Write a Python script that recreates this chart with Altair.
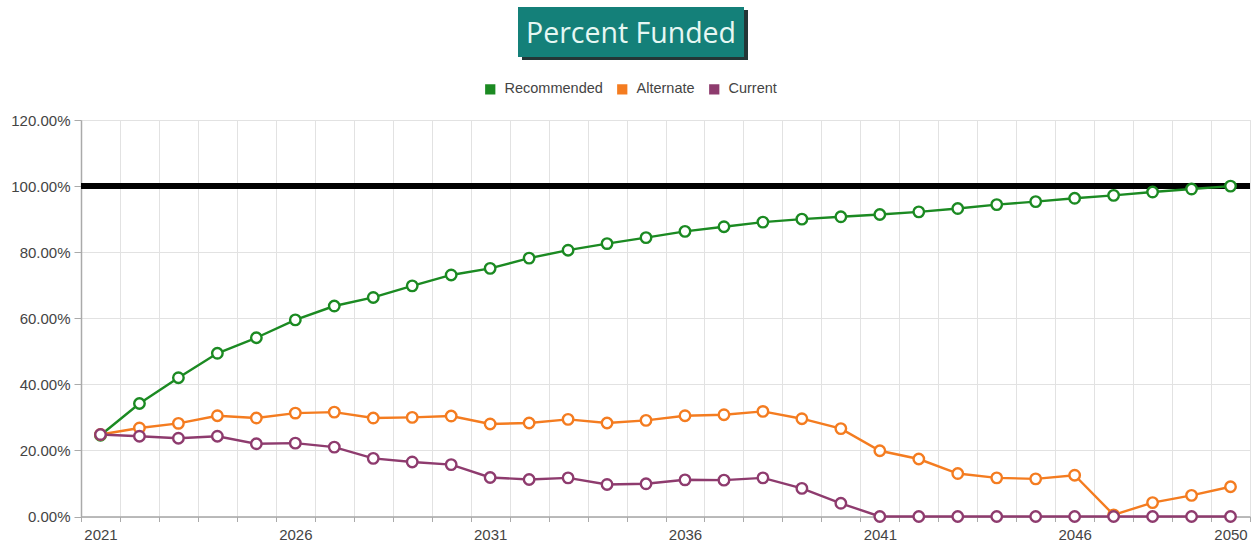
import altair as alt
import pandas as pd

years = list(range(2021, 2051))
recommended = [24.6, 34.2, 42.0, 49.4, 54.1, 59.5, 63.7, 66.3, 69.8, 73.1,
               75.1, 78.2, 80.6, 82.6, 84.4, 86.3, 87.7, 89.1, 90.0, 90.7,
               91.4, 92.2, 93.2, 94.4, 95.3, 96.3, 97.2, 98.2, 99.1, 100.0]
alternate = [24.8, 26.8, 28.2, 30.5, 29.8, 31.3, 31.6, 29.8, 30.0, 30.4,
             28.0, 28.3, 29.4, 28.3, 29.1, 30.5, 30.8, 31.8, 29.6, 26.6,
             19.9, 17.4, 13.0, 11.7, 11.4, 12.5, 0.5, 4.2, 6.4, 9.0]
current = [24.8, 24.3, 23.7, 24.3, 22.0, 22.2, 21.0, 17.6, 16.5, 15.7,
           11.8, 11.2, 11.7, 9.7, 9.9, 11.1, 11.0, 11.7, 8.5, 4.0,
           0.0, 0.0, 0.0, 0.0, 0.0, 0.0, 0.0, 0.0, 0.0, 0.0]
series_names = ["Recommended", "Alternate", "Current"]
series_colors = ["#1b8a22", "#f47c20", "#8e3b6e"]
target_value = [100]
x_label_years = [2021, 2026, 2031, 2036, 2041, 2046, 2050]
x_grid_years = [y - 0.5 for y in years] + [2050.5]
y_ticks = [0, 20, 40, 60, 80, 100, 120]
title_text = ["Percent Funded"]

rows = []
for name, vals in zip(series_names, [recommended, alternate, current]):
    for yr, v in zip(years, vals):
        rows.append({"year": yr, "value": v, "series": name})
df = pd.DataFrame(rows)

W, H = 1169, 396.5
FONT = "Liberation Sans"
xscale = alt.Scale(domain=[2020.5, 2050.5], nice=False, zero=False)
yscale = alt.Scale(domain=[0, 120], nice=False)
cscale = alt.Scale(domain=series_names, range=series_colors)

grid_axis = alt.Axis(values=x_grid_years, labels=False, grid=True, gridColor="#e2e2e2",
                     ticks=True, tickSize=5, tickColor="#aaaaaa", domain=True,
                     domainColor="#aaaaaa", domainWidth=1.5, title=None, orient="bottom")
label_axis = alt.Axis(values=x_label_years, format="d", grid=False, ticks=False,
                      domain=False, labelColor="#444444", labelFontSize=15,
                      labelFont=FONT, labelPadding=11, title=None,
                      orient="bottom", labelFlush=False)
y_axis = alt.Axis(values=y_ticks, labelExpr="format(datum.value, '.2f') + '%'",
                  grid=True, gridColor="#e2e2e2", tickSize=7, tickColor="#aaaaaa",
                  domainColor="#aaaaaa", domainWidth=1.5, labelColor="#444444",
                  labelFontSize=15, labelFont=FONT, title=None, labelPadding=4)

base = alt.Chart(df)

grid_layer = base.mark_line(opacity=0).encode(
    x=alt.X("year:Q", scale=xscale, axis=grid_axis),
    y=alt.Y("value:Q", scale=yscale, axis=y_axis),
    detail="series:N",
)

label_layer = base.mark_line(opacity=0).encode(
    x=alt.X("year:Q", scale=xscale, axis=label_axis),
    y=alt.Y("value:Q", scale=yscale, axis=y_axis),
    detail="series:N",
)

target = alt.Chart(pd.DataFrame({"t": target_value})).mark_rule(
    color="black", strokeWidth=6).encode(
    y=alt.Y("t:Q", scale=yscale, axis=y_axis), x=alt.value(0), x2=alt.value(W))

layers = [grid_layer, label_layer, target]
for name, color in zip(series_names, series_colors):
    sub = alt.Chart(df[df.series == name])
    layers.append(sub.mark_line(color=color, strokeWidth=2.4).encode(
        x=alt.X("year:Q", scale=xscale, axis=None),
        y=alt.Y("value:Q", scale=yscale, axis=y_axis)))
    layers.append(sub.mark_point(shape="circle", filled=True, fill="white",
                                 stroke=color, strokeWidth=2.4, size=110, opacity=1).encode(
        x=alt.X("year:Q", scale=xscale, axis=None),
        y=alt.Y("value:Q", scale=yscale, axis=y_axis)))

legend_layer = base.mark_square(size=0, opacity=1).encode(
    x=alt.X("year:Q", scale=xscale, axis=None),
    y=alt.Y("value:Q", scale=yscale, axis=y_axis),
    fill=alt.Fill("series:N", scale=cscale, sort=series_names,
                  legend=alt.Legend(orient="none", direction="horizontal",
                                    legendX=402, legendY=-38, title=None,
                                    symbolType="square", symbolSize=105,
                                    symbolStrokeWidth=0,
                                    labelFontSize=14.5, labelColor="#444444",
                                    labelFont=FONT,
                                    columnPadding=12, labelOffset=7)),
)
layers.append(legend_layer)

tdf = pd.DataFrame({"t": title_text})
shadow = alt.Chart(tdf).mark_rect(color="#233636").encode(
    x=alt.value(441), x2=alt.value(667), y=alt.value(-110), y2=alt.value(-60))
box = alt.Chart(tdf).mark_rect(color="#148079").encode(
    x=alt.value(437), x2=alt.value(663), y=alt.value(-113), y2=alt.value(-63))
ttext = alt.Chart(tdf).mark_text(font="Open Sans", fontSize=28.5, color="#e6f7f3",
                                 align="center", baseline="middle").encode(
    x=alt.value(550), y=alt.value(-86), text="t:N")
layers += [shadow, box, ttext]

chart = alt.layer(*layers).resolve_axis(x="independent").properties(
    width=W, height=H,
    padding={"left": 81, "top": 120, "right": 8, "bottom": 29.5},
    autosize=alt.AutoSizeParams(type="none"),
).configure_view(stroke=None).configure(background="white")

chart.save("out.html", embed_options={"renderer": "svg", "actions": False})
